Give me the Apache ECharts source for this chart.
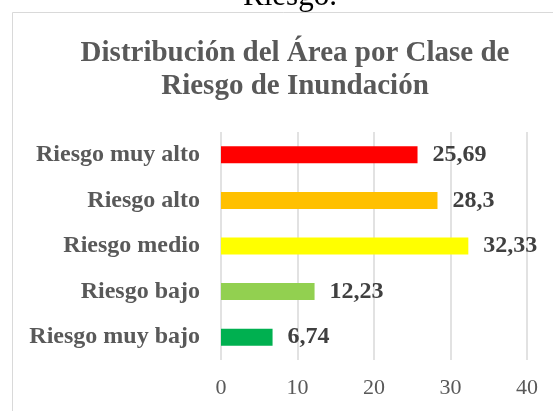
<!DOCTYPE html>
<html>
<head>
<meta charset="utf-8">
<script src="https://cdn.jsdelivr.net/npm/echarts@6/dist/echarts.min.js"></script>
<style>
html,body{margin:0;padding:0;background:#fff;}
#chart{width:553px;height:411px;}
</style>
</head>
<body>
<div id="chart"></div>
<script>
const categories = ['Riesgo muy alto', 'Riesgo alto', 'Riesgo medio', 'Riesgo bajo', 'Riesgo muy bajo'];
const values = [25.69, 28.3, 32.33, 12.23, 6.74];
const valueLabels = ['25,69', '28,3', '32,33', '12,23', '6,74'];
const barColors = ['#FF0000', '#FFC000', '#FFFF00', '#92D050', '#00B050'];
const xTicks = [0, 10, 20, 30, 40];

const FONT = '"Liberation Serif", "Times New Roman", serif';
const chart = echarts.init(document.getElementById('chart'));
chart.setOption({
  animation: false,
  backgroundColor: '#fff',
  title: {
    text: 'Distribución del Área por Clase de\nRiesgo de Inundación',
    left: 290,
    textAlign: 'center',
    top: 32,
    textStyle: {
      fontFamily: FONT,
      fontSize: 29,
      fontWeight: 'bold',
      color: '#595959',
      lineHeight: 33
    }
  },
  graphic: [
    {
      type: 'rect',
      shape: { x: 12.5, y: 12.5, width: 700, height: 600 },
      style: { fill: 'none', stroke: '#d9d9d9', lineWidth: 1 },
      silent: true,
      z: -1
    },
    {
      type: 'text',
      x: 290,
      y: -3,
      style: {
        text: 'Riesgo.',
        fontFamily: FONT,
        fontSize: 31,
        fill: '#000',
        align: 'center',
        verticalAlign: 'middle'
      },
      silent: true
    }
  ],
  grid: { left: 221, right: 26, top: 132, bottom: 51, containLabel: false },
  xAxis: {
    type: 'value',
    min: xTicks[0],
    max: xTicks[xTicks.length - 1],
    interval: 10,
    axisLine: { show: false },
    axisTick: { show: false },
    splitLine: { show: true, lineStyle: { color: '#d9d9d9', width: 1.5 } },
    axisLabel: {
      margin: 17,
      fontFamily: FONT,
      fontSize: 22,
      color: '#595959',
      formatter: v => String(v)
    }
  },
  yAxis: {
    type: 'category',
    data: categories,
    inverse: true,
    axisLine: { show: false },
    axisTick: { show: false },
    axisLabel: {
      margin: 21,
      fontFamily: FONT,
      fontSize: 24,
      fontWeight: 'bold',
      color: '#595959'
    }
  },
  series: [{
    type: 'bar',
    data: values.map((v, i) => ({ value: v, itemStyle: { color: barColors[i] } })),
    barWidth: 17,
    label: {
      show: true,
      position: 'right',
      distance: 15,
      fontFamily: FONT,
      fontSize: 24,
      fontWeight: 'bold',
      color: '#404040',
      formatter: p => valueLabels[p.dataIndex]
    }
  }]
});
</script>
</body>
</html>
